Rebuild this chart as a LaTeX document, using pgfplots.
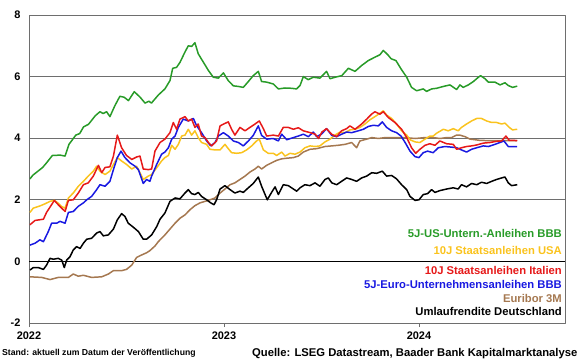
\documentclass[border=0pt]{standalone}
\usepackage{pgfplots}
\pgfplotsset{compat=1.18}
\usepackage{fontspec}
\setmainfont{Liberation Sans}
\definecolor{cgreen}{RGB}{40,155,40}
\definecolor{cyellow}{RGB}{250,195,30}
\definecolor{cred}{RGB}{230,25,25}
\definecolor{cblue}{RGB}{25,25,225}
\definecolor{cbrown}{RGB}{165,120,80}
\definecolor{cgrid}{RGB}{110,110,110}
\begin{document}
\begin{tikzpicture}[x=1bp,y=1bp]
\path[use as bounding box] (-29,-36) rectangle (551,323);
\begin{axis}[
  at={(0,0)}, anchor=south west,
  scale only axis, width=536bp, height=308bp,
  xmin=0, xmax=2.749, ymin=-2, ymax=8,
  xtick={0,1,2}, xticklabels={2022,2023,2024},
  ytick={-2,0,2,4,6,8},
  ymajorgrids, grid style={cgrid, line width=0.8pt},
  axis line style={cgrid, line width=0.8pt},
  x tick style={cgrid, line width=0.8pt}, xtick pos=bottom, tick align=outside,
  major tick length=4bp,
  y tick style={draw=none},
  /pgf/number format/assume math mode=true,
  ticklabel style={font=\bfseries\fontsize{11}{13}\selectfont},
  yticklabel style={xshift=-1bp},
  xticklabel style={yshift=-1bp},
  line join=round,
]
\addplot[black, line width=1.6pt] coordinates {(0,0) (2.749,0)};
\addplot[cbrown, line width=1.5pt] coordinates {(0.005,-0.5)(0.065,-0.52)(0.108,-0.59)(0.15,-0.52)(0.202,-0.52)(0.227,-0.41)(0.253,-0.48)(0.279,-0.45)(0.321,-0.52)(0.373,-0.5)(0.407,-0.41)(0.433,-0.3)(0.475,-0.3)(0.5,-0.26)(0.527,-0.12)(0.552,0.13)(0.578,0.21)(0.603,0.28)(0.62,0.35)(0.646,0.5)(0.663,0.64)(0.68,0.75)(0.697,0.86)(0.723,1.05)(0.749,1.24)(0.774,1.4)(0.8,1.51)(0.826,1.68)(0.851,1.81)(0.877,1.9)(0.903,1.95)(0.928,2.0)(0.954,2.06)(0.98,2.22)(1.005,2.35)(1.031,2.49)(1.056,2.55)(1.082,2.66)(1.108,2.77)(1.133,2.9)(1.159,3.0)(1.176,3.09)(1.193,3.0)(1.219,3.12)(1.244,3.2)(1.27,3.28)(1.296,3.33)(1.322,3.35)(1.356,3.37)(1.381,3.42)(1.407,3.55)(1.441,3.64)(1.475,3.66)(1.518,3.73)(1.553,3.75)(1.586,3.77)(1.621,3.8)(1.655,3.86)(1.68,3.69)(1.697,3.91)(1.732,3.97)(1.758,4.02)(1.792,3.99)(1.826,4.02)(1.877,4.02)(1.929,4.02)(1.98,3.99)(2.031,4.02)(2.073,4.02)(2.108,3.99)(2.142,4.02)(2.167,4.02)(2.193,4.1)(2.21,4.1)(2.236,4.05)(2.262,3.97)(2.313,3.93)(2.364,3.92)(2.415,3.92)(2.466,3.92)(2.504,3.92)};
\addplot[black, line width=1.5pt] coordinates {(0.005,-0.28)(0.022,-0.2)(0.048,-0.2)(0.074,-0.26)(0.09,-0.12)(0.108,0.1)(0.125,0.07)(0.15,0.1)(0.168,0.04)(0.181,-0.2)(0.193,0.04)(0.21,0.15)(0.227,0.37)(0.244,0.48)(0.262,0.42)(0.279,0.59)(0.296,0.72)(0.321,0.75)(0.347,0.92)(0.364,0.97)(0.381,0.83)(0.407,0.86)(0.433,1.05)(0.453,1.35)(0.475,1.55)(0.492,1.46)(0.509,1.24)(0.535,1.11)(0.561,0.97)(0.586,0.72)(0.603,0.72)(0.629,0.86)(0.655,1.13)(0.672,1.37)(0.697,1.57)(0.723,1.95)(0.749,2.06)(0.774,2.03)(0.8,2.22)(0.817,2.33)(0.834,2.2)(0.851,2.17)(0.868,2.24)(0.885,2.11)(0.911,2.0)(0.932,1.9)(0.949,1.84)(0.962,2.0)(0.98,2.35)(1.005,2.46)(1.031,2.33)(1.056,2.22)(1.082,2.28)(1.099,2.24)(1.125,2.39)(1.15,2.53)(1.176,2.74)(1.193,2.44)(1.222,2.0)(1.244,2.24)(1.262,2.42)(1.279,2.17)(1.304,2.49)(1.33,2.46)(1.356,2.35)(1.373,2.28)(1.39,2.39)(1.415,2.49)(1.441,2.46)(1.467,2.55)(1.492,2.44)(1.518,2.66)(1.535,2.71)(1.553,2.55)(1.578,2.49)(1.603,2.6)(1.629,2.71)(1.655,2.66)(1.68,2.6)(1.706,2.71)(1.732,2.77)(1.758,2.88)(1.783,2.86)(1.812,2.93)(1.834,2.77)(1.86,2.79)(1.885,2.68)(1.911,2.49)(1.937,2.33)(1.954,2.11)(1.98,1.98)(2.0,2.0)(2.022,2.17)(2.044,2.2)(2.065,2.33)(2.082,2.24)(2.108,2.3)(2.142,2.35)(2.176,2.39)(2.201,2.35)(2.218,2.49)(2.244,2.42)(2.27,2.53)(2.296,2.49)(2.321,2.57)(2.347,2.53)(2.373,2.6)(2.398,2.66)(2.424,2.71)(2.441,2.74)(2.458,2.55)(2.475,2.46)(2.504,2.49)};
\addplot[cyellow, line width=1.5pt] coordinates {(0.005,1.59)(0.022,1.73)(0.056,1.8)(0.082,1.87)(0.108,1.95)(0.13,1.98)(0.15,1.89)(0.168,1.78)(0.185,1.73)(0.202,2.06)(0.227,2.22)(0.253,2.44)(0.279,2.6)(0.304,2.77)(0.33,2.93)(0.347,3.09)(0.364,2.93)(0.39,2.82)(0.415,2.93)(0.433,3.15)(0.453,3.37)(0.475,3.26)(0.5,3.15)(0.527,3.0)(0.552,3.09)(0.569,2.88)(0.586,2.66)(0.612,2.77)(0.629,2.82)(0.655,3.04)(0.68,3.26)(0.697,3.37)(0.715,3.44)(0.732,3.77)(0.749,3.64)(0.766,3.8)(0.783,4.07)(0.8,4.1)(0.817,4.29)(0.834,4.1)(0.851,4.24)(0.868,4.02)(0.885,3.86)(0.911,3.8)(0.928,3.64)(0.954,3.62)(0.98,3.62)(1.005,3.8)(1.022,3.66)(1.039,3.53)(1.065,3.51)(1.091,3.53)(1.116,3.62)(1.142,3.75)(1.167,3.91)(1.181,3.97)(1.202,3.62)(1.227,3.51)(1.253,3.51)(1.27,3.44)(1.296,3.55)(1.313,3.42)(1.339,3.51)(1.364,3.48)(1.39,3.55)(1.415,3.69)(1.441,3.75)(1.467,3.73)(1.492,3.75)(1.518,3.88)(1.544,3.97)(1.569,4.1)(1.595,4.2)(1.621,4.18)(1.646,4.27)(1.672,4.29)(1.697,4.35)(1.723,4.46)(1.749,4.6)(1.774,4.7)(1.8,4.81)(1.817,4.89)(1.834,4.75)(1.86,4.64)(1.885,4.46)(1.911,4.24)(1.937,4.1)(1.954,3.95)(1.98,3.88)(2.005,3.86)(2.031,3.97)(2.056,4.07)(2.073,4.07)(2.09,4.16)(2.125,4.29)(2.15,4.24)(2.176,4.31)(2.201,4.24)(2.218,4.35)(2.244,4.46)(2.27,4.56)(2.296,4.64)(2.321,4.64)(2.347,4.56)(2.373,4.51)(2.398,4.51)(2.424,4.46)(2.441,4.49)(2.463,4.35)(2.48,4.27)(2.504,4.29)};
\addplot[cblue, line width=1.5pt] coordinates {(0.005,0.53)(0.031,0.59)(0.056,0.7)(0.074,0.64)(0.099,0.97)(0.116,1.24)(0.142,1.24)(0.159,1.3)(0.185,1.24)(0.202,1.59)(0.227,1.62)(0.253,1.79)(0.279,1.9)(0.296,2.0)(0.321,2.11)(0.347,2.33)(0.364,2.49)(0.39,2.44)(0.415,2.6)(0.433,2.98)(0.453,3.37)(0.472,3.58)(0.492,3.37)(0.518,3.2)(0.544,3.09)(0.561,2.98)(0.586,2.53)(0.603,2.66)(0.62,2.6)(0.629,2.77)(0.655,3.15)(0.68,3.48)(0.697,3.55)(0.715,3.69)(0.732,3.97)(0.749,4.07)(0.766,4.35)(0.791,4.62)(0.817,4.56)(0.843,4.64)(0.86,4.4)(0.885,4.18)(0.911,3.91)(0.932,3.75)(0.954,3.86)(0.971,4.07)(0.997,4.18)(1.022,4.07)(1.048,3.91)(1.074,3.86)(1.099,3.75)(1.125,3.91)(1.15,4.09)(1.176,4.4)(1.193,4.09)(1.219,3.97)(1.253,3.99)(1.279,3.91)(1.296,4.13)(1.322,3.95)(1.356,4.02)(1.381,4.07)(1.407,4.13)(1.433,4.05)(1.458,4.2)(1.475,4.05)(1.5,4.13)(1.526,4.31)(1.553,4.09)(1.578,4.05)(1.603,4.13)(1.629,4.2)(1.655,4.18)(1.689,4.24)(1.715,4.29)(1.74,4.38)(1.766,4.42)(1.792,4.4)(1.812,4.53)(1.834,4.35)(1.86,4.24)(1.885,4.18)(1.908,4.07)(1.929,3.86)(1.954,3.58)(1.98,3.4)(2.0,3.37)(2.022,3.53)(2.044,3.58)(2.073,3.53)(2.099,3.69)(2.133,3.73)(2.167,3.71)(2.193,3.69)(2.218,3.62)(2.244,3.55)(2.27,3.64)(2.296,3.69)(2.33,3.75)(2.356,3.73)(2.39,3.8)(2.415,3.86)(2.436,3.91)(2.458,3.73)(2.48,3.73)(2.504,3.73)};
\addplot[cred, line width=1.5pt] coordinates {(0.005,1.19)(0.031,1.33)(0.074,1.37)(0.09,1.59)(0.13,1.98)(0.15,1.84)(0.185,1.62)(0.202,1.98)(0.227,2.0)(0.253,2.22)(0.279,2.49)(0.304,2.55)(0.33,2.77)(0.356,3.12)(0.373,2.88)(0.39,3.05)(0.415,3.07)(0.433,3.42)(0.453,4.1)(0.475,3.69)(0.5,3.44)(0.527,3.31)(0.552,3.39)(0.569,3.42)(0.586,3.0)(0.612,2.98)(0.629,3.0)(0.646,3.58)(0.672,3.86)(0.697,3.97)(0.723,4.18)(0.74,4.51)(0.757,4.29)(0.774,4.62)(0.8,4.7)(0.817,4.56)(0.834,4.62)(0.851,4.35)(0.868,4.46)(0.885,4.07)(0.903,4.02)(0.92,3.86)(0.937,3.75)(0.962,3.91)(0.98,4.4)(1.005,4.48)(1.022,4.53)(1.039,4.29)(1.056,4.1)(1.082,4.35)(1.108,4.24)(1.133,4.35)(1.159,4.46)(1.181,4.56)(1.202,4.31)(1.219,4.07)(1.253,4.1)(1.279,4.07)(1.304,4.35)(1.33,4.35)(1.356,4.29)(1.381,4.34)(1.407,4.24)(1.442,4.18)(1.468,4.13)(1.485,3.99)(1.502,4.2)(1.526,4.31)(1.552,4.13)(1.578,4.05)(1.603,4.24)(1.629,4.31)(1.646,4.4)(1.672,4.29)(1.706,4.46)(1.732,4.62)(1.757,4.78)(1.774,4.86)(1.8,4.78)(1.817,4.86)(1.843,4.67)(1.877,4.51)(1.911,4.29)(1.937,4.02)(1.962,3.69)(1.983,3.51)(2.005,3.64)(2.031,3.77)(2.056,3.82)(2.082,3.77)(2.107,3.91)(2.142,3.82)(2.176,3.8)(2.193,3.64)(2.218,3.69)(2.244,3.73)(2.27,3.75)(2.296,3.78)(2.33,3.84)(2.364,3.86)(2.399,3.9)(2.424,3.91)(2.446,4.07)(2.463,3.93)(2.483,3.93)(2.504,3.92)};
\addplot[cgreen, line width=1.5pt] coordinates {(0.005,2.68)(0.02,2.8)(0.05,2.95)(0.07,3.05)(0.09,3.2)(0.12,3.44)(0.16,3.45)(0.185,3.42)(0.205,3.8)(0.24,4.1)(0.26,4.15)(0.28,4.37)(0.305,4.45)(0.34,4.73)(0.364,4.86)(0.38,4.8)(0.398,4.86)(0.415,4.7)(0.44,5.05)(0.466,5.36)(0.488,5.33)(0.51,5.22)(0.54,5.51)(0.57,5.33)(0.595,5.14)(0.615,5.2)(0.628,5.14)(0.663,5.4)(0.697,5.6)(0.723,5.87)(0.737,6.27)(0.757,6.3)(0.775,6.47)(0.8,6.8)(0.817,7.0)(0.834,6.98)(0.851,7.1)(0.868,6.74)(0.894,6.47)(0.92,6.2)(0.945,5.98)(0.971,5.95)(0.997,6.12)(1.022,5.87)(1.048,5.7)(1.074,5.68)(1.099,5.65)(1.125,5.84)(1.15,6.03)(1.176,6.17)(1.193,5.84)(1.219,5.82)(1.253,5.76)(1.279,5.6)(1.313,5.63)(1.347,5.62)(1.372,5.6)(1.39,5.71)(1.407,6.0)(1.432,5.9)(1.458,5.98)(1.492,5.95)(1.526,6.17)(1.544,5.93)(1.57,5.98)(1.604,6.03)(1.638,6.27)(1.672,6.17)(1.706,6.36)(1.74,6.52)(1.774,6.63)(1.8,6.71)(1.817,6.85)(1.84,6.71)(1.857,6.58)(1.882,6.52)(1.908,6.25)(1.937,5.98)(1.962,5.65)(1.988,5.54)(2.022,5.6)(2.039,5.52)(2.065,5.6)(2.09,5.62)(2.125,5.68)(2.159,5.73)(2.193,5.58)(2.21,5.73)(2.227,5.65)(2.253,5.73)(2.279,5.84)(2.305,5.98)(2.316,6.03)(2.339,5.93)(2.356,5.82)(2.39,5.82)(2.416,5.73)(2.441,5.8)(2.458,5.71)(2.48,5.65)(2.504,5.69)};
\begin{scope}[every node/.style={anchor=east, inner sep=0pt, font=\bfseries\fontsize{11.3}{13}\selectfont}]
\node[text=cgreen] at (axis cs:2.7336,0.9) {5J-US-Untern.-Anleihen BBB};
\node[text=cyellow] at (axis cs:2.7336,0.37) {10J Staatsanleihen USA};
\node[text=cred] at (axis cs:2.7336,-0.3) {10J Staatsanleihen Italien};
\node[text=cblue] at (axis cs:2.7336,-0.74) {5J-Euro-Unternehmensanleihen BBB};
\node[text=cbrown] at (axis cs:2.7336,-1.22) {Euribor 3M};
\node[text=black] at (axis cs:2.7336,-1.63) {Umlaufrendite Deutschland};
\end{scope}
\end{axis}
\node[anchor=base west, inner sep=0pt, font=\bfseries\fontsize{8.7}{10}\selectfont] at (-27,-32) {Stand: aktuell zum Datum der Veröffentlichung};
\node[anchor=base west, inner sep=0pt, font=\bfseries\fontsize{11.3}{13}\selectfont] at (223,-33) {Quelle: LSEG Datastream, Baader Bank Kapitalmarktanalyse};
\end{tikzpicture}
\end{document}
